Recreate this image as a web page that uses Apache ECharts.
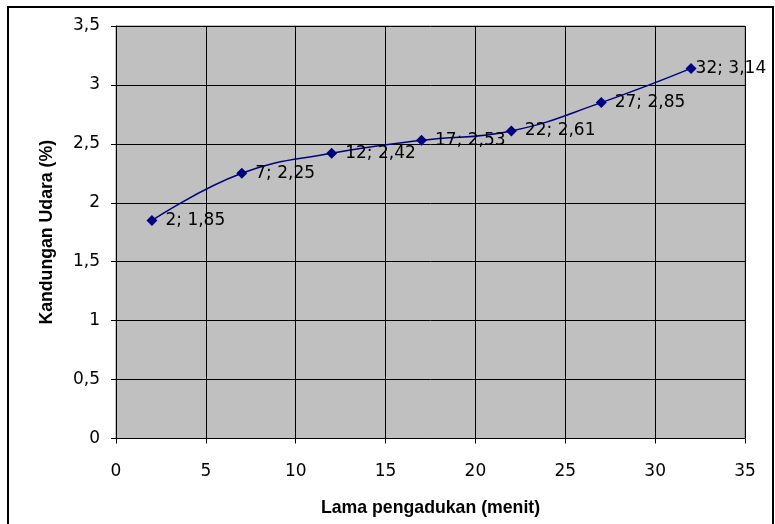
<!DOCTYPE html>
<html>
<head>
<meta charset="utf-8">
<script src="https://cdn.jsdelivr.net/npm/echarts@6/dist/echarts.min.js"></script>
<style>
html,body{margin:0;padding:0;background:#fff;overflow:hidden;}
#frame{position:absolute;left:7px;top:6px;width:767px;height:540px;border:2px solid #000;box-sizing:border-box;}
#chart{position:absolute;left:0;top:0;width:775px;height:524px;}
</style>
</head>
<body>
<div id="frame"></div>
<div id="chart"></div>
<script>
const minutes = [2, 7, 12, 17, 22, 27, 32];
const airContent = [1.85, 2.25, 2.42, 2.53, 2.61, 2.85, 3.14];
const xTitle = 'Lama pengadukan (menit)';
const yTitle = 'Kandungan Udara (%)';

const fmt = v => String(v).replace('.', ',');
const fmt2 = v => v.toFixed(2).replace('.', ',');

const chart = echarts.init(document.getElementById('chart'));
const font = '"DejaVu Sans", sans-serif';
const boldFont = '"Liberation Sans", Arial, sans-serif';
const seriesData = minutes.map((x, i) => {
  const item = { value: [x, airContent[i]] };
  if (i === minutes.length - 1) item.label = { distance: -1 };
  return item;
});
chart.setOption({
  animation: false,
  textStyle: { fontFamily: font },
  grid: { left: 116, right: 30, top: 26, bottom: 85.5, show: true, backgroundColor: '#C0C0C0', borderColor: '#808080', borderWidth: 1 },
  xAxis: {
    type: 'value', min: 0, max: 35, interval: 5,
    name: xTitle, nameLocation: 'middle', nameGap: 61,
    nameTextStyle: { fontSize: 17.7, fontWeight: 'bold', color: '#000', fontFamily: boldFont },
    axisLine: { show: true, onZero: false, lineStyle: { color: '#000', width: 1 } },
    axisTick: { show: true, length: 5, lineStyle: { color: '#000' } },
    axisLabel: { fontSize: 17, color: '#000', margin: 25, fontFamily: font, formatter: v => fmt(v) },
    splitLine: { show: true, lineStyle: { color: '#000', width: 1 } }
  },
  yAxis: {
    type: 'value', min: 0, max: 3.5, interval: 0.5,
    name: yTitle, nameLocation: 'middle', nameGap: 60,
    nameTextStyle: { fontSize: 17.7, fontWeight: 'bold', color: '#000', fontFamily: boldFont },
    axisLine: { show: true, onZero: false, lineStyle: { color: '#000', width: 1 } },
    axisTick: { show: true, length: 5, lineStyle: { color: '#000' } },
    axisLabel: { fontSize: 17, color: '#000', margin: 16, fontFamily: font, formatter: v => fmt(v) },
    splitLine: { show: true, lineStyle: { color: '#000', width: 1 } }
  },
  series: [{
    type: 'line',
    data: seriesData,
    smooth: 0.45,
    symbol: 'diamond', symbolSize: 11,
    itemStyle: { color: '#000080' },
    lineStyle: { color: '#000080', width: 1.5 },
    label: {
      show: true, position: 'right', distance: 8,
      fontSize: 17, color: '#000', fontFamily: font,
      formatter: p => p.value[0] + '; ' + fmt2(p.value[1])
    }
  }]
});
</script>
</body>
</html>
